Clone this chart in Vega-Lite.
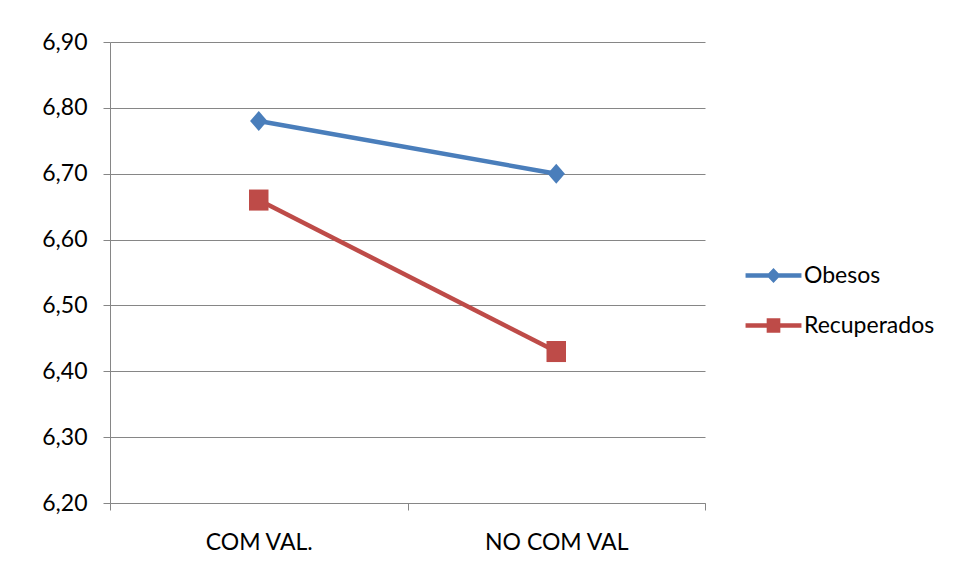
{
  "$schema": "https://vega.github.io/schema/vega-lite/v6.json",
  "width": 595,
  "height": 461,
  "autosize": "none",
  "padding": {"left": 110, "top": 42, "right": 255, "bottom": 81},
  "background": "white",
  "config": {"view": {"stroke": null}, "font": "Lato"},
  "data": {
    "values": [
      {"grupo": "COM VAL.", "serie": "Obesos", "valor": 6.78},
      {"grupo": "NO COM VAL", "serie": "Obesos", "valor": 6.70},
      {"grupo": "COM VAL.", "serie": "Recuperados", "valor": 6.66},
      {"grupo": "NO COM VAL", "serie": "Recuperados", "valor": 6.43}
    ]
  },
  "encoding": {
    "x": {
      "field": "grupo", "type": "nominal", "sort": ["COM VAL.", "NO COM VAL"],
      "scale": {"type": "band", "paddingInner": 0, "paddingOuter": 0},
      "axis": {
        "title": null, "labelAngle": 0, "tickBand": "extent", "grid": false,
        "domainColor": "#868686", "tickColor": "#868686", "tickSize": 7,
        "labelFontSize": 23, "labelPadding": 21, "labelColor": "black", "labelFont": "Lato"
      }
    },
    "y": {
      "field": "valor", "type": "quantitative",
      "scale": {"domain": [6.2, 6.9], "zero": false, "nice": false},
      "axis": {
        "title": null, "values": [6.2, 6.3, 6.4, 6.5, 6.6, 6.7, 6.8, 6.9],
        "labelExpr": "replace(format(datum.value, '.2f'), '.', ',')",
        "grid": true, "gridColor": "#868686", "domainColor": "#868686", "tickColor": "#868686",
        "tickSize": 7, "labelPadding": 16, "labelFontSize": 23, "labelColor": "black", "labelFont": "Lato"
      }
    },
    "color": {
      "field": "serie", "type": "nominal",
      "scale": {"domain": ["Obesos", "Recuperados"], "range": ["#4A7EBB", "#BE4B48"]},
      "legend": {
        "title": null, "orient": "none", "legendX": 652, "legendY": 222, "padding": 0,
        "symbolSize": 169, "symbolStrokeWidth": 0, "labelFontSize": 23, "labelOffset": 19, "rowPadding": 26,
        "labelColor": "black", "labelFont": "Lato"
      }
    }
  },
  "layer": [
    {"mark": {"type": "line", "strokeWidth": 4.5}},
    {
      "transform": [{"filter": "false"}],
      "mark": {"type": "point", "filled": true, "opacity": 1},
      "encoding": {
        "shape": {
          "field": "serie", "type": "nominal",
          "scale": {
            "domain": ["Obesos", "Recuperados"],
            "range": [
              "M-4.3,-0.33H4.3V0.33H-4.3Z M0,-1.15L1.1,0L0,1.15L-1.1,0Z",
              "M-4.3,-0.33H4.3V0.33H-4.3Z M-1.05,-1.1H1.05V1.1H-1.05Z"
            ]
          },
          "legend": {"title": null}
        }
      }
    },
    {
      "mark": {"type": "point", "filled": true, "opacity": 1},
      "encoding": {
        "shape": {"condition": {"test": "datum.serie === 'Obesos'", "value": "M0,-1.15L1,0L0,1.15L-1,0Z"}, "value": "M-1,-1.08H1V1.08H-1Z"},
        "size": {"condition": {"test": "datum.serie === 'Obesos'", "value": 300}, "value": 380}
      }
    }
  ]
}
